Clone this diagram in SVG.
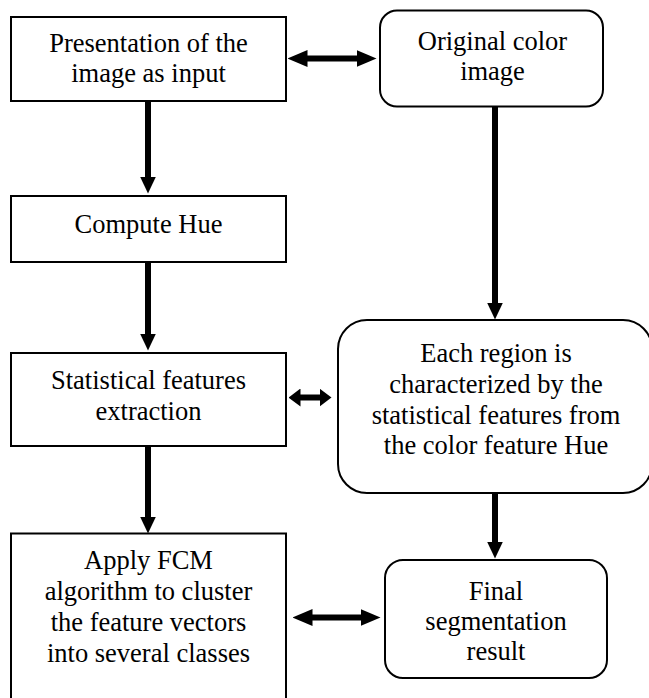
<svg xmlns="http://www.w3.org/2000/svg" width="649" height="698" viewBox="0 0 649 698">
  <style>
    .box { fill: #ffffff; stroke: #000000; stroke-width: 2; }
    .label { font-family: "Liberation Serif", "Times New Roman", serif; font-size: 26.5px; fill: #000000; text-anchor: middle; }
    .shaft { stroke: #000000; stroke-width: 6; fill: none; }
    .down { marker-end: url(#headV); }
    .both { marker-start: url(#headH); marker-end: url(#headH); }
    .bothShort { marker-start: url(#headS); marker-end: url(#headS); }
  </style>
  <defs>
    <!-- vertical arrowhead: 17 long, 16 wide -->
    <marker id="headV" markerUnits="userSpaceOnUse" viewBox="0 0 17 16" refX="0.5" refY="8" markerWidth="17" markerHeight="16" orient="auto-start-reverse">
      <path d="M0,0 L17,8 L0,16 z" fill="#000000"/>
    </marker>
    <!-- horizontal arrowhead: 20 long, 17 high -->
    <marker id="headH" markerUnits="userSpaceOnUse" viewBox="0 0 20 17" refX="0.5" refY="8.5" markerWidth="20" markerHeight="17" orient="auto-start-reverse">
      <path d="M0,0 L20,8.5 L0,17 z" fill="#000000"/>
    </marker>
    <!-- short, wide arrowhead for the compact double arrow -->
    <marker id="headS" markerUnits="userSpaceOnUse" viewBox="0 0 12 18" refX="0.5" refY="9" markerWidth="12" markerHeight="18" orient="auto-start-reverse">
      <path d="M0,0 L12,9 L0,18 z" fill="#000000"/>
    </marker>
  </defs>

  <rect x="0" y="0" width="649" height="698" fill="#ffffff"/>

  <g id="connectors">
    <line class="shaft down" x1="148" y1="101" x2="148" y2="177"/>
    <line class="shaft down" x1="148" y1="262" x2="148" y2="334"/>
    <line class="shaft down" x1="148" y1="446" x2="148" y2="517"/>
    <line class="shaft down" x1="495" y1="107" x2="495" y2="303"/>
    <line class="shaft down" x1="495" y1="493" x2="495" y2="542"/>
    <line class="shaft both" x1="307" y1="58.5" x2="357" y2="58.5"/>
    <line class="shaft bothShort" x1="300" y1="397.5" x2="320" y2="397.5"/>
    <line class="shaft both" x1="312" y1="617.5" x2="361" y2="617.5"/>
  </g>

  <g id="input">
    <rect class="box" x="11" y="17" width="275" height="84"/>
    <text class="label" x="148.5" y="52">Presentation of the</text>
    <text class="label" x="148.5" y="82">image as input</text>
  </g>

  <g id="original">
    <rect class="box" x="380" y="10.5" width="223" height="96" rx="17" ry="17"/>
    <text class="label" x="492.5" y="49.5">Original color</text>
    <text class="label" x="492.5" y="79.5">image</text>
  </g>

  <g id="hue">
    <rect class="box" x="11" y="196" width="275" height="66"/>
    <text class="label" x="148.5" y="233">Compute Hue</text>
  </g>

  <g id="stats">
    <rect class="box" x="11" y="353" width="275" height="93"/>
    <text class="label" x="148.5" y="388.5">Statistical features</text>
    <text class="label" x="148.5" y="419.5">extraction</text>
  </g>

  <g id="region">
    <rect class="box" x="338" y="320" width="314" height="173" rx="29" ry="29"/>
    <text class="label" x="496" y="362">Each region is</text>
    <text class="label" x="496" y="393">characterized by the</text>
    <text class="label" x="496" y="423.5">statistical features from</text>
    <text class="label" x="496" y="454">the color feature Hue</text>
  </g>

  <g id="fcm">
    <rect class="box" x="11" y="533.5" width="275" height="170"/>
    <text class="label" x="148.5" y="568.5">Apply FCM</text>
    <text class="label" x="148.5" y="600">algorithm to cluster</text>
    <text class="label" x="148.5" y="631">the feature vectors</text>
    <text class="label" x="148.5" y="662">into several classes</text>
  </g>

  <g id="result">
    <rect class="box" x="385" y="560" width="222" height="118" rx="18" ry="18"/>
    <text class="label" x="496" y="600">Final</text>
    <text class="label" x="496" y="630">segmentation</text>
    <text class="label" x="496" y="660">result</text>
  </g>
</svg>
